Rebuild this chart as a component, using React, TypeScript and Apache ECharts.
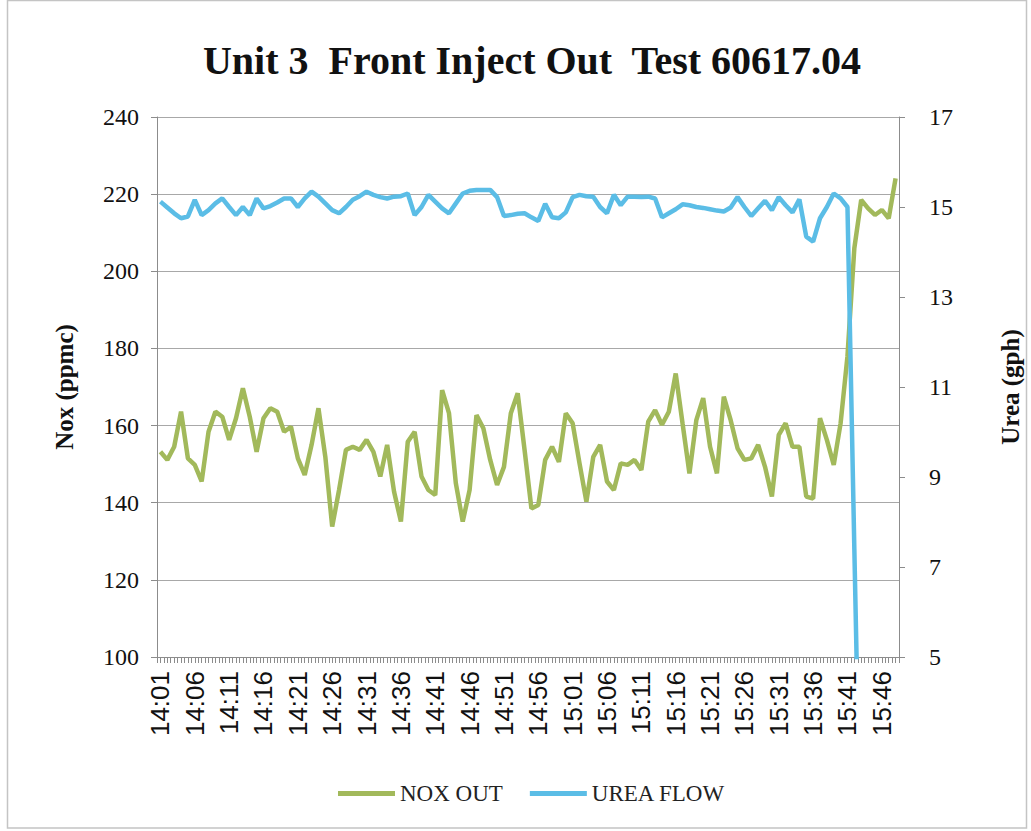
import React, { useEffect, useRef } from 'react';
import * as echarts from 'echarts';

const times = [
  '14:01','14:02','14:03','14:04','14:05','14:06','14:07','14:08','14:09','14:10',
  '14:11','14:12','14:13','14:14','14:15','14:16','14:17','14:18','14:19','14:20',
  '14:21','14:22','14:23','14:24','14:25','14:26','14:27','14:28','14:29','14:30',
  '14:31','14:32','14:33','14:34','14:35','14:36','14:37','14:38','14:39','14:40',
  '14:41','14:42','14:43','14:44','14:45','14:46','14:47','14:48','14:49','14:50',
  '14:51','14:52','14:53','14:54','14:55','14:56','14:57','14:58','14:59','15:00',
  '15:01','15:02','15:03','15:04','15:05','15:06','15:07','15:08','15:09','15:10',
  '15:11','15:12','15:13','15:14','15:15','15:16','15:17','15:18','15:19','15:20',
  '15:21','15:22','15:23','15:24','15:25','15:26','15:27','15:28','15:29','15:30',
  '15:31','15:32','15:33','15:34','15:35','15:36','15:37','15:38','15:39','15:40',
  '15:41','15:42','15:43','15:44','15:45','15:46','15:47','15:48'
];

const noxOut = [
  153.2, 151.1, 154.5, 163.6, 151.5, 149.8, 145.5, 158.4, 163.6, 162.3,
  156.3, 161.9, 169.7, 162.3, 153.2, 161.9, 164.5, 163.6, 158.4, 159.7,
  151.5, 147.2, 155.0, 164.5, 151.9, 133.8, 143.3, 153.7, 154.5, 153.7,
  156.3, 153.2, 146.8, 155.0, 142.9, 135.1, 155.8, 158.4, 146.8, 143.3,
  142.0, 169.2, 163.2, 145.0, 135.1, 143.3, 162.7, 159.3, 151.1, 144.6,
  149.3, 163.2, 168.4, 153.7, 138.5, 139.4, 151.1, 154.5, 150.6, 163.2,
  160.6, 150.2, 140.3, 151.9, 155.0, 145.5, 143.3, 150.2, 149.8, 151.1,
  148.5, 161.0, 164.0, 160.2, 163.6, 173.5, 160.5, 147.6, 161.4, 167.1,
  154.5, 147.6, 167.5, 161.4, 154.1, 151.1, 151.5, 155.0, 149.3, 141.6,
  157.6, 160.6, 154.5, 154.5, 141.6, 141.1, 161.9, 156.3, 149.8, 160.6,
  178.0, 206.0, 218.5, 216.3, 214.6, 215.9, 213.7, 224.1
];

const ureaFlow = [
  15.12, 14.99, 14.86, 14.75, 14.79, 15.16, 14.82, 14.93, 15.08, 15.19,
  15.0, 14.82, 15.0, 14.82, 15.19, 14.97, 15.02, 15.1, 15.19, 15.19,
  15.0, 15.19, 15.34, 15.23, 15.08, 14.93, 14.86, 15.0, 15.16, 15.24,
  15.34, 15.27, 15.22, 15.19, 15.23, 15.24, 15.3, 14.82, 15.0, 15.27,
  15.12, 14.97, 14.86, 15.08, 15.3, 15.36, 15.38, 15.38, 15.38, 15.22,
  14.8, 14.82, 14.85, 14.86, 14.77, 14.69, 15.07, 14.77, 14.75, 14.88,
  15.22, 15.27, 15.24, 15.23, 15.0, 14.86, 15.27, 15.04, 15.23, 15.23,
  15.22, 15.23, 15.19, 14.77, 14.86, 14.95, 15.06, 15.04, 15.0, 14.98,
  14.95, 14.92, 14.9, 14.99, 15.22, 15.0, 14.8, 14.97, 15.14, 14.93,
  15.22, 15.04, 14.88, 15.17, 14.34, 14.23, 14.75, 15.0, 15.3, 15.19,
  15.0, 7.4, 0, 0, 0, 0, 0, 0
];

// half-minute tick positions (tick marks only, no labels)
const halfMinuteTicks = times.flatMap((t) => [t + ':00', t + ':30']);

const TITLE = 'Unit 3  Front Inject Out  Test 60617.04';
const GREEN = '#a2b95b';
const BLUE = '#5bbde6';
const AXIS_GREY = '#8c8c8c';

export default function App() {
  const ref = useRef<HTMLDivElement>(null);

  useEffect(() => {
    document.body.style.margin = '0';
    if (!ref.current) return;
    const chart = echarts.init(ref.current, undefined, { renderer: 'svg' });
    chart.setOption({
      animation: false,
      backgroundColor: '#ffffff',
      title: {
        text: TITLE,
        left: 527,
        top: 35,
        textAlign: 'center',
        textStyle: {
          fontFamily: 'Liberation Serif',
          fontWeight: 'bold',
          fontSize: 40,
          color: '#111111',
        },
      },
      graphic: [
        {
          type: 'rect',
          silent: true,
          shape: { x: 7.5, y: 0.5, width: 1019, height: 827.5 },
          style: { fill: 'none', stroke: '#c4c4c4', lineWidth: 1.5 },
        },
      ],
      legend: {
        left: 333,
        top: 777,
        icon: 'rect',
        itemWidth: 57,
        itemHeight: 5,
        itemGap: 27,
        data: ['NOX OUT', 'UREA FLOW'],
        textStyle: { fontFamily: 'Liberation Serif', fontSize: 23, color: '#222222' },
      },
      grid: { left: 157, right: 121, top: 117, bottom: 174, containLabel: false },
      xAxis: [
        {
          type: 'category',
          data: times,
          boundaryGap: true,
          axisLine: { show: true, lineStyle: { color: AXIS_GREY, width: 1 } },
          axisTick: { show: false },
          axisLabel: {
            interval: 4,
            rotate: 90,
            margin: 14,
            fontFamily: 'Liberation Sans',
            fontSize: 26,
            color: '#111111',
          },
          splitLine: { show: false },
        },
        {
          type: 'category',
          data: halfMinuteTicks,
          position: 'bottom',
          boundaryGap: true,
          axisLine: { show: false },
          axisTick: { show: true, interval: 0, length: 6, lineStyle: { color: AXIS_GREY } },
          axisLabel: { show: false },
          splitLine: { show: false },
        },
      ],
      yAxis: [
        {
          type: 'value',
          position: 'left',
          min: 100,
          max: 240,
          interval: 20,
          name: 'Nox (ppmc)',
          nameLocation: 'middle',
          nameRotate: 90,
          nameGap: 80,
          nameTextStyle: {
            fontFamily: 'Liberation Serif',
            fontWeight: 'bold',
            fontSize: 25,
            color: '#111111',
          },
          axisLine: { show: true, lineStyle: { color: AXIS_GREY } },
          axisTick: { show: true, length: 6, lineStyle: { color: AXIS_GREY } },
          axisLabel: { margin: 18, fontFamily: 'Liberation Serif', fontSize: 24, color: '#111111' },
          splitLine: { show: true, lineStyle: { color: '#a8a8a8', width: 1.2 } },
        },
        {
          type: 'value',
          position: 'right',
          min: 5,
          max: 17,
          interval: 2,
          name: 'Urea (gph)',
          nameLocation: 'middle',
          nameRotate: 90,
          nameGap: 99,
          nameTextStyle: {
            fontFamily: 'Liberation Serif',
            fontWeight: 'bold',
            fontSize: 25,
            color: '#111111',
          },
          axisLine: { show: true, lineStyle: { color: AXIS_GREY } },
          axisTick: { show: true, length: 6, lineStyle: { color: AXIS_GREY } },
          axisLabel: { margin: 30, fontFamily: 'Liberation Serif', fontSize: 24, color: '#111111' },
          splitLine: { show: false },
        },
      ],
      series: [
        {
          name: 'NOX OUT',
          type: 'line',
          xAxisIndex: 0,
          yAxisIndex: 0,
          data: noxOut,
          symbol: 'none',
          clip: true,
          lineStyle: { color: GREEN, width: 4.5 },
          itemStyle: { color: GREEN },
        },
        {
          name: 'UREA FLOW',
          type: 'line',
          xAxisIndex: 0,
          yAxisIndex: 1,
          data: ureaFlow,
          symbol: 'none',
          clip: true,
          lineStyle: { color: BLUE, width: 4.5 },
          itemStyle: { color: BLUE },
        },
      ],
    });
    return () => chart.dispose();
  }, []);

  return <div ref={ref} style={{ width: 1031, height: 831 }} />;
}
